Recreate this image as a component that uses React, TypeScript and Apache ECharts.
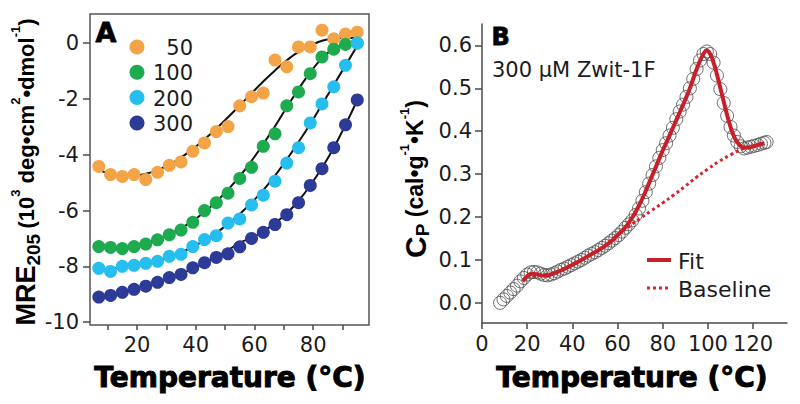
import React, { useEffect, useRef } from "react";
import * as echarts from "echarts";

// ---------- Panel A data ----------
const tempsA = [7, 11, 15, 19, 23, 27, 31, 35, 39, 43, 47, 51, 55, 59, 63, 67, 71, 75, 79, 83, 87, 91, 95];
const conc50 = [-4.42, -4.71, -4.78, -4.71, -4.89, -4.63, -4.38, -4.26, -3.88, -3.58, -3.17, -2.99, -2.25, -1.92, -1.79, -0.61, -0.85, -0.14, -0.14, 0.46, 0.15, 0.32, 0.39];
const conc100 = [-7.29, -7.32, -7.36, -7.29, -7.2, -7.05, -6.87, -6.7, -6.42, -6.0, -5.72, -5.38, -4.85, -4.45, -3.7, -3.25, -2.25, -1.75, -1.1, -0.5, -0.22, -0.05, 0.0];
const conc200 = [-8.07, -8.18, -8.0, -7.96, -7.89, -7.82, -7.64, -7.57, -7.29, -7.04, -6.9, -6.45, -6.3, -5.8, -5.45, -4.95, -4.3, -3.75, -2.86, -2.18, -1.57, -0.8, 0.0];
const conc300 = [-9.1, -9.04, -8.93, -8.82, -8.71, -8.57, -8.4, -8.29, -8.05, -7.87, -7.68, -7.55, -7.3, -7.0, -6.78, -6.5, -6.15, -5.72, -5.1, -4.5, -3.75, -2.93, -2.04];
const fit50 = [-4.55, -4.68, -4.74, -4.74, -4.68, -4.55, -4.36, -4.1, -3.8, -3.45, -3.07, -2.66, -2.23, -1.8, -1.38, -0.98, -0.62, -0.32, -0.1, 0.08, 0.16, 0.18, 0.19];
const fit100 = [-7.33, -7.33, -7.3, -7.25, -7.15, -7.02, -6.85, -6.63, -6.37, -6.05, -5.68, -5.25, -4.77, -4.22, -3.62, -2.98, -2.3, -1.65, -1.05, -0.55, -0.2, -0.03, 0.02];
const fit200 = [-8.1, -8.08, -8.03, -7.97, -7.9, -7.8, -7.66, -7.5, -7.3, -7.07, -6.8, -6.48, -6.12, -5.72, -5.27, -4.75, -4.17, -3.55, -2.9, -2.2, -1.5, -0.8, -0.1];
const fit300 = [-9.12, -9.03, -8.93, -8.83, -8.71, -8.58, -8.43, -8.27, -8.08, -7.88, -7.66, -7.42, -7.15, -6.98, -6.75, -6.45, -6.1, -5.65, -5.1, -4.47, -3.75, -2.93, -2.05];
const seriesNamesA = ["50", "100", "200", "300"];
const colorsA = ["#F3A446", "#1EAA4E", "#25BEEE", "#2C3A98"];
const xTicksA = [10, 20, 30, 40, 50, 60, 70, 80, 90];
const xLabelsA = [20, 40, 60, 80];
const yTicksA = [-10, -8, -6, -4, -2, 0];

// ---------- Panel B data ----------
const cpTemps = [8, 9.5, 11, 12.5, 14, 15.5, 17, 18.5, 20, 21.5, 23, 24.5, 26, 27.5, 29, 30.5, 32, 33.5, 35, 36.5, 38, 39.5, 41, 42.5, 44, 45.5, 47, 48.5, 50, 51.5, 53, 54.5, 56, 57.5, 59, 60.5, 62, 63.5, 65, 66.5, 68, 69.5, 71, 72.5, 74, 75.5, 77, 78.5, 80, 81.5, 83, 84.5, 86, 87.5, 89, 90.5, 92, 93.5, 95, 96.5, 98, 99.5, 101, 102.5, 104, 105.5, 107, 108.5, 110, 111.5, 113, 114.5, 116, 117.5, 119, 120.5, 122, 123.5, 125, 126];
const cpValues = [0.0, 0.008, 0.016, 0.024, 0.032, 0.04, 0.05, 0.058, 0.066, 0.071, 0.072, 0.071, 0.068, 0.065, 0.064, 0.066, 0.069, 0.073, 0.077, 0.08, 0.084, 0.088, 0.092, 0.096, 0.1, 0.105, 0.11, 0.114, 0.118, 0.123, 0.128, 0.133, 0.139, 0.145, 0.151, 0.158, 0.166, 0.175, 0.183, 0.192, 0.205, 0.22, 0.238, 0.258, 0.278, 0.298, 0.318, 0.338, 0.356, 0.372, 0.39, 0.408, 0.428, 0.446, 0.462, 0.48, 0.5, 0.522, 0.545, 0.565, 0.58, 0.586, 0.58, 0.56, 0.53, 0.498, 0.466, 0.436, 0.41, 0.39, 0.375, 0.365, 0.36, 0.362, 0.364, 0.366, 0.368, 0.371, 0.373, 0.375];
const fitTemps = [18, 20, 22, 24, 26, 28, 30, 34, 38, 42, 46, 50, 54, 58, 60, 62, 64, 66, 68, 70, 72, 74, 76, 78, 80, 82, 84, 86, 88, 90, 92, 94, 96, 98, 99.5, 101, 102.5, 104, 106, 108, 110, 112, 114, 116, 118, 120, 122, 125];
const fitValues = [0.05, 0.062, 0.068, 0.067, 0.064, 0.063, 0.065, 0.073, 0.083, 0.094, 0.106, 0.118, 0.131, 0.147, 0.158, 0.168, 0.18, 0.195, 0.212, 0.232, 0.255, 0.28, 0.305, 0.33, 0.355, 0.378, 0.402, 0.426, 0.45, 0.474, 0.5, 0.53, 0.558, 0.58, 0.588, 0.58, 0.56, 0.532, 0.49, 0.448, 0.41, 0.383, 0.368, 0.362, 0.362, 0.365, 0.368, 0.372];
const baseTemps = [20, 30, 40, 50, 60, 65, 70, 75, 80, 85, 90, 95, 100, 105, 110, 115, 120, 125];
const baseValues = [0.062, 0.068, 0.09, 0.118, 0.158, 0.178, 0.197, 0.215, 0.233, 0.252, 0.272, 0.293, 0.312, 0.33, 0.345, 0.358, 0.365, 0.372];
const xTicksB = [0, 20, 40, 60, 80, 100, 120];
const yTicksB = [0, 0.1, 0.2, 0.3, 0.4, 0.5, 0.6];

const zip = (xs: number[], ys: number[]) => xs.map((x, i) => [x, ys[i]]);

const SANS = "DejaVu Sans";
const ARIAL = "Liberation Sans";
const TXT = "#1c1c1c";
const AX = "#4a4a4a";

export default function App() {
  const ref = useRef<HTMLDivElement>(null);
  useEffect(() => {
    if (!ref.current) return;
    const chart = echarts.init(ref.current, null, { renderer: "svg" });
    const valsA = [conc50, conc100, conc200, conc300];
    const fitsA = [fit50, fit100, fit200, fit300];

    const series: any[] = [];
    fitsA.forEach((f) => {
      series.push({
        type: "line", xAxisIndex: 0, yAxisIndex: 0, data: zip(tempsA, f), smooth: true,
        symbol: "none", lineStyle: { color: "#111", width: 2 }, z: 1, silent: true,
      });
    });
    valsA.forEach((v, i) => {
      series.push({
        name: seriesNamesA[i], type: "scatter", xAxisIndex: 0, yAxisIndex: 0, data: zip(tempsA, v),
        symbol: "circle", symbolSize: 13, itemStyle: { color: colorsA[i], opacity: 1 }, z: 2,
      });
    });
    series.push({
      name: "Data", type: "scatter", xAxisIndex: 1, yAxisIndex: 1, data: zip(cpTemps, cpValues),
      symbol: "circle", symbolSize: 13,
      itemStyle: { color: "rgba(0,0,0,0)", borderColor: "#4a4a4a", borderWidth: 1 }, z: 2,
    });
    series.push({
      name: "Baseline", type: "line", xAxisIndex: 1, yAxisIndex: 1, data: zip(baseTemps, baseValues),
      smooth: true, symbol: "none", lineStyle: { color: "#D8232A", width: 3, type: [3, 3] }, z: 3,
    });
    series.push({
      name: "Fit", type: "line", xAxisIndex: 1, yAxisIndex: 1, data: zip(fitTemps, fitValues),
      smooth: true, symbol: "none", lineStyle: { color: "#C8202A", width: 4 }, z: 4,
    });

    const labelStyle = { fontFamily: SANS, fontSize: 21, color: TXT };

    chart.setOption({
      animation: false,
      backgroundColor: "#fff",
      grid: [
        { left: 90, top: 14, right: 431, bottom: 79, show: true, borderColor: "#555", borderWidth: 1.5, backgroundColor: "transparent" },
        { left: 482, top: 24, right: 13, bottom: 81 },
      ],
      xAxis: [
        {
          gridIndex: 0, type: "value", min: 4, max: 99,
          axisLine: { show: false, onZero: false },
          axisTick: { show: true, customValues: xTicksA, length: 5, lineStyle: { color: AX, width: 1.5 } },
          axisLabel: { customValues: xLabelsA, margin: 9, ...labelStyle },
          splitLine: { show: false },
        },
        {
          gridIndex: 1, type: "value", min: 0, max: 135,
          axisLine: { show: true, onZero: false, lineStyle: { color: AX, width: 1.5 } },
          axisTick: { show: true, customValues: xTicksB, length: 6, lineStyle: { color: AX, width: 1.5 } },
          axisLabel: { customValues: xTicksB, margin: 10, ...labelStyle },
          splitLine: { show: false },
        },
      ],
      yAxis: [
        {
          gridIndex: 0, type: "value", min: -10.1, max: 1.04,
          axisLine: { show: false, onZero: false },
          axisTick: { show: true, customValues: yTicksA, length: 7, lineStyle: { color: AX, width: 1.5 } },
          axisLabel: { customValues: yTicksA, margin: 11, formatter: (v: number) => String(v), ...labelStyle },
          splitLine: { show: false },
        },
        {
          gridIndex: 1, type: "value", min: -0.047, max: 0.65,
          axisLine: { show: true, onZero: false, lineStyle: { color: AX, width: 1.5 } },
          axisTick: { show: true, customValues: yTicksB, length: 7, lineStyle: { color: AX, width: 1.5 } },
          axisLabel: { customValues: yTicksB, margin: 10, formatter: (v: number) => v.toFixed(1), ...labelStyle },
          splitLine: { show: false },
        },
      ],
      series,
      graphic: [
        // Panel A label and legend
        { type: "text", left: 95, top: 19, style: { text: "A", font: `bold 27px "${SANS}"`, fill: "#000", stroke: "#000", lineWidth: 0.8 } },
        ...seriesNamesA.map((n, i) => ({
          type: "circle", shape: { cx: 137, cy: 47 + i * 25.3, r: 7.5 }, style: { fill: colorsA[i] },
        })),
        ...seriesNamesA.map((n, i) => ({
          type: "text", x: 193, y: 48 + i * 25.3,
          style: { text: n, font: `21px "${SANS}"`, fill: TXT, align: "right", verticalAlign: "middle" },
        })),
        // Panel B label, annotation and legend
        { type: "text", left: 491, top: 25, style: { text: "B", font: `bold 24px "${SANS}"`, fill: "#000", stroke: "#000", lineWidth: 0.8 } },
        { type: "text", x: 492, y: 70, style: { text: "300 µM Zwit-1F", font: `21px "${SANS}"`, fill: TXT, verticalAlign: "middle" } },
        { type: "line", shape: { x1: 647, y1: 260, x2: 671, y2: 260 }, style: { stroke: "#C8202A", lineWidth: 4 } },
        { type: "text", x: 678, y: 261, style: { text: "Fit", font: `22px "${SANS}"`, fill: TXT, verticalAlign: "middle" } },
        { type: "line", shape: { x1: 647, y1: 288, x2: 671, y2: 288 }, style: { stroke: "#D8232A", lineWidth: 3, lineDash: [3, 3] } },
        { type: "text", x: 678, y: 289, style: { text: "Baseline", font: `22px "${SANS}"`, fill: TXT, verticalAlign: "middle" } },
        // x axis titles
        { type: "text", x: 230, y: 377, style: { text: "Temperature (°C)", font: `bold 28px "${SANS}"`, fill: "#000", stroke: "#000", lineWidth: 1, align: "center", verticalAlign: "middle" } },
        { type: "text", x: 632, y: 377, style: { text: "Temperature (°C)", font: `bold 28px "${SANS}"`, fill: "#000", stroke: "#000", lineWidth: 1, align: "center", verticalAlign: "middle" } },
        // y axis titles (rotated)
        {
          type: "text", x: 26, y: 172, rotation: Math.PI / 2,
          style: {
            text: "{a|MRE}{b|205\u00a0}{c|(10}{d|3}{c|\u00a0deg•cm}{d|2}{c|•dmol}{d|-1}{c|)}",
            align: "center", verticalAlign: "middle", fill: "#000",
            rich: {
              a: { fontFamily: ARIAL, fontWeight: "bold", fontSize: 27, lineHeight: 34, fill: "#000" },
              b: { fontFamily: ARIAL, fontWeight: "bold", fontSize: 19, lineHeight: 20, verticalAlign: "bottom", fill: "#000" },
              c: { fontFamily: ARIAL, fontWeight: "bold", fontSize: 22, lineHeight: 34, fill: "#000" },
              d: { fontFamily: ARIAL, fontWeight: "bold", fontSize: 13, lineHeight: 20, verticalAlign: "top", fill: "#000" },
            },
          },
        },
        {
          type: "text", x: 415, y: 179, rotation: Math.PI / 2,
          style: {
            text: "{a|C}{b|P}{c|\u00a0(cal•g}{d|-1}{c|•K}{d|-1}{c|)}",
            align: "center", verticalAlign: "middle", fill: "#000",
            rich: {
              a: { fontFamily: ARIAL, fontWeight: "bold", fontSize: 30, lineHeight: 34, fill: "#000" },
              b: { fontFamily: ARIAL, fontWeight: "bold", fontSize: 19, lineHeight: 20, verticalAlign: "bottom", fill: "#000" },
              c: { fontFamily: ARIAL, fontWeight: "bold", fontSize: 23, lineHeight: 34, fill: "#000" },
              d: { fontFamily: ARIAL, fontWeight: "bold", fontSize: 13, lineHeight: 20, verticalAlign: "top", fill: "#000" },
            },
          },
        },
      ],
    });
    return () => chart.dispose();
  }, []);
  return <div ref={ref} style={{ width: 800, height: 404, position: "absolute", left: 0, top: 0 }} />;
}
